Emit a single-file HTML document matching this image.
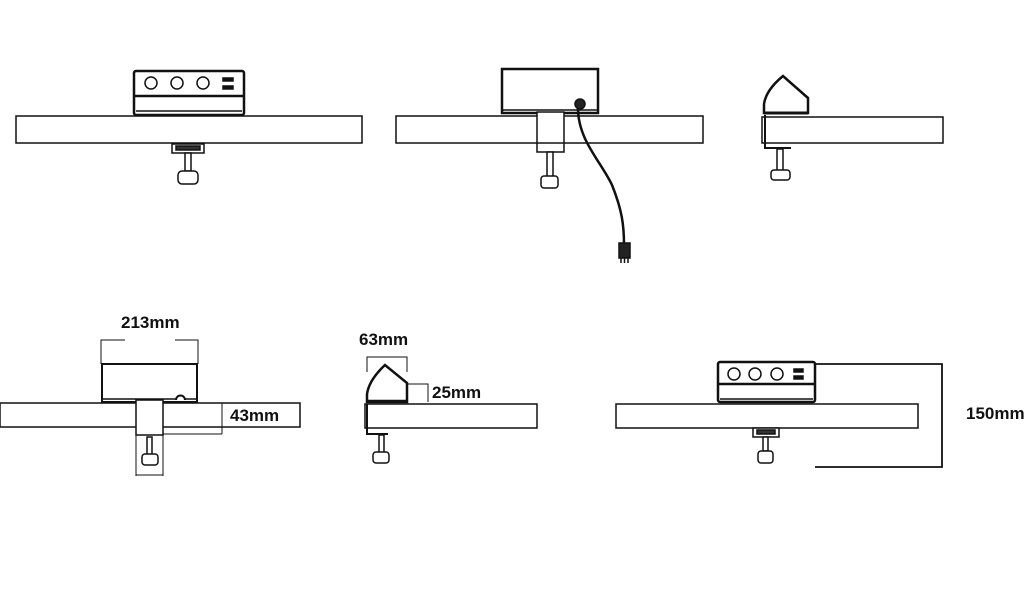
<!DOCTYPE html>
<html><head><meta charset="utf-8"><style>
html,body{margin:0;padding:0;background:#fff;}
svg{display:block}
text{font-family:"Liberation Sans",sans-serif;font-weight:bold;font-size:17px;fill:#111}
</style></head><body>
<svg width="1035" height="594" viewBox="0 0 1035 594" xmlns="http://www.w3.org/2000/svg">
<g fill="#fff" stroke="#111" stroke-width="1.5">
<!-- Diagram 1 -->
<rect x="16" y="116" width="346" height="27"/>
<rect x="134" y="71" width="110" height="44" rx="2" stroke-width="2.5"/>
<line x1="134" y1="96" x2="244" y2="96" stroke-width="2.5"/>
<line x1="136" y1="111" x2="242" y2="111"/>
<circle cx="151" cy="83" r="6"/><circle cx="177" cy="83" r="6"/><circle cx="203" cy="83" r="6"/>
<rect x="223" y="78" width="10" height="3" fill="#111"/><rect x="223" y="86" width="10" height="3" fill="#111"/>
<rect x="172" y="144" width="32" height="9"/>
<rect x="176" y="146" width="24" height="4" fill="#333"/>
<rect x="185" y="153" width="6" height="18"/>
<rect x="178" y="171" width="20" height="13" rx="4"/>

<!-- Diagram 2 -->
<rect x="396" y="116" width="307" height="27"/>
<rect x="502" y="69" width="96" height="44" stroke-width="2.5"/>
<line x1="503" y1="110" x2="597" y2="110"/>
<rect x="537" y="112" width="27" height="40"/>
<line x1="537" y1="143" x2="564" y2="143"/>
<rect x="547" y="152" width="6" height="26"/>
<rect x="541" y="176" width="17" height="12" rx="3"/>
<circle cx="580" cy="104" r="5" fill="#222"/>
<path d="M578 108 C578 140 600 160 612 185 C622 210 624 225 624 245" fill="none" stroke-width="2.5"/>
<rect x="619" y="243" width="11" height="15" fill="#222"/>
<line x1="621" y1="258" x2="621" y2="263"/><line x1="624.5" y1="258" x2="624.5" y2="263"/><line x1="628" y1="258" x2="628" y2="263"/>

<!-- Diagram 3 -->
<rect x="762" y="117" width="181" height="26"/>
<path d="M764 113 L764 104 Q766 90 783 76 L808 98 L808 113 Z" stroke-width="2.5"/>
<line x1="764" y1="113" x2="808" y2="113" stroke-width="3"/>
<path d="M765 115 L765 148 L791 148" fill="none" stroke-width="2"/>
<rect x="777" y="149" width="6" height="22"/>
<rect x="771" y="170" width="19" height="10" rx="3"/>

<!-- Diagram 4 -->
<rect x="0" y="403" width="300" height="24"/>
<rect x="102" y="364" width="95" height="38" stroke-width="2"/>
<line x1="103" y1="399" x2="196" y2="399"/>
<path d="M176 400 a4.5 4.5 0 1 1 9 0" stroke-width="2"/>
<rect x="136" y="400" width="27" height="35"/>
<line x1="163" y1="434" x2="222" y2="434" stroke-width="1"/>
<line x1="300" y1="403" x2="222" y2="403" stroke-width="1"/>
<line x1="222" y1="403" x2="222" y2="434" stroke-width="1"/>
<line x1="136" y1="435" x2="136" y2="476" stroke-width="1"/>
<line x1="163" y1="435" x2="163" y2="476" stroke-width="1"/>
<line x1="136" y1="475" x2="163" y2="475" stroke-width="1"/>
<rect x="147" y="437" width="5" height="18"/>
<rect x="142" y="454" width="16" height="11" rx="3"/>
<path d="M101 364 L101 340 L125 340 M175 340 L198 340 L198 364" fill="none" stroke-width="1"/>

<!-- Diagram 5 -->
<rect x="365" y="404" width="172" height="24"/>
<path d="M367 402 L367 394 Q369 380 385 365 L407 383 L407 402 Z" stroke-width="2.5"/>
<line x1="367" y1="401" x2="407" y2="401" stroke-width="2.5"/>
<path d="M367 404 L367 434 L388 434" fill="none" stroke-width="2"/>
<rect x="379" y="435" width="5" height="18"/>
<rect x="373" y="452" width="16" height="11" rx="3"/>
<path d="M367 372 L367 357 L407 357 L407 372" fill="none" stroke-width="1"/>
<path d="M407 384 L428 384 L428 402" fill="none" stroke-width="1"/>

<!-- Diagram 6 -->
<rect x="616" y="404" width="302" height="24"/>
<rect x="718" y="362" width="97" height="40" rx="2" stroke-width="2.5"/>
<line x1="718" y1="384" x2="815" y2="384" stroke-width="2.5"/>
<line x1="720" y1="399" x2="813" y2="399"/>
<circle cx="734" cy="374" r="6"/><circle cx="755" cy="374" r="6"/><circle cx="777" cy="374" r="6"/>
<rect x="794" y="369" width="9" height="3" fill="#111"/><rect x="794" y="376" width="9" height="3" fill="#111"/>
<rect x="753" y="428" width="26" height="9"/>
<rect x="757" y="430" width="18" height="4" fill="#333"/>
<rect x="763" y="437" width="5" height="14"/>
<rect x="758" y="451" width="15" height="12" rx="3"/>
<path d="M815 364 L942 364 L942 467 L815 467" fill="none" stroke-width="1.8"/>
</g>
<text x="121" y="328">213mm</text>
<text x="230" y="421">43mm</text>
<text x="359" y="345">63mm</text>
<text x="432" y="398">25mm</text>
<text x="966" y="419">150mm</text>
</svg>
</body></html>
